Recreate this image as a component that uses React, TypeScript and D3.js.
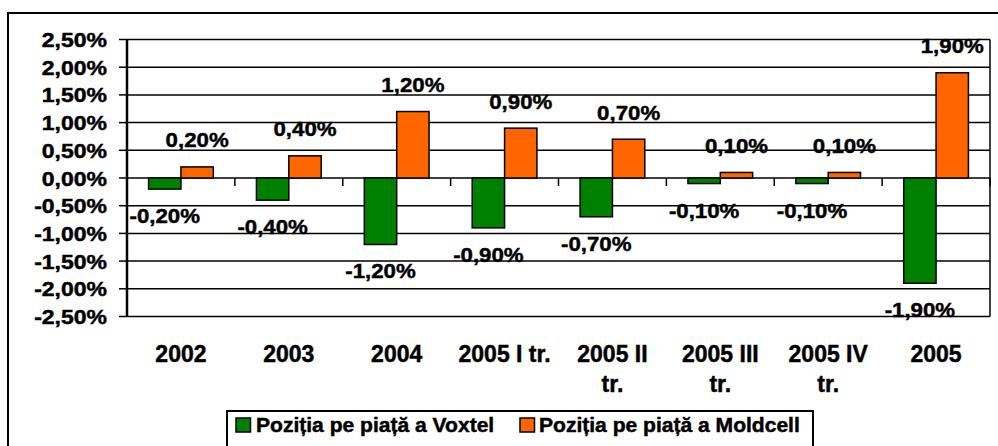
import React from "react";
import * as d3 from "d3";

const categories: string[][] = [
  ["2002"],
  ["2003"],
  ["2004"],
  ["2005 I tr."],
  ["2005 II", "tr."],
  ["2005 III", "tr."],
  ["2005 IV", "tr."],
  ["2005"],
];
const voxtel = [-0.2, -0.4, -1.2, -0.9, -0.7, -0.1, -0.1, -1.9];
const moldcell = [0.2, 0.4, 1.2, 0.9, 0.7, 0.1, 0.1, 1.9];
const yTicks = [2.5, 2.0, 1.5, 1.0, 0.5, 0, -0.5, -1.0, -1.5, -2.0, -2.5];
const seriesNames = ["Poziția pe piață a Voxtel", "Poziția pe piață a Moldcell"];
const colors = ["#008000", "#FF6600"];

const W = 998;
const H = 446;
const FONT = "'Liberation Sans', Arial, sans-serif";

const locale = d3.formatLocale({ decimal: ",", thousands: ".", grouping: [3], currency: ["", ""], minus: "-" });
const f2 = locale.format(".2f");
const pct = (v: number) => f2(v).replace("\u2212", "-") + "%";

function T({ x, y, children, anchor = "middle", size = 20, sx = 1 }: any) {
  return (
    <text
      transform={`translate(${x},${y}) scale(${sx},1)`}
      textAnchor={anchor}
      fontFamily={FONT}
      fontWeight="bold"
      fontSize={size}
      fill="#000"
      stroke="#000"
      strokeWidth={0.45}
    >
      {children}
    </text>
  );
}

export default function App() {
  const left = 127, right = 990, top = 39.5, bottom = 316.5;
  const y = d3.scaleLinear().domain([-2.5, 2.5]).range([bottom, top]);
  const keys = categories.map((c) => c.join(" "));
  const x = d3.scaleBand().domain(keys).range([left, right]).paddingInner(0).paddingOuter(0);
  const bw = x.bandwidth() * 0.3;
  const y0 = y(0);

  return (
    <svg width={W} height={H} style={{ position: "absolute", left: 0, top: 0, background: "#fff" }}>
      <rect x={0} y={0} width={W} height={H} fill="#fff" />
      {/* outer frame */}
      <rect x={8} y={13} width={1100} height={600} fill="none" stroke="#000" strokeWidth={2} />

      {/* gridlines */}
      {yTicks.map((t) => (
        <line key={"g" + t} x1={left} x2={right} y1={y(t)} y2={y(t)} stroke="#000" strokeWidth={1.5} />
      ))}
      {/* y ticks */}
      {yTicks.map((t) => (
        <line key={"t" + t} x1={left - 8} x2={left} y1={y(t)} y2={y(t)} stroke="#000" strokeWidth={1.5} />
      ))}
      {yTicks.map((t) => (
        <T key={"l" + t} x={107} y={y(t) + 7.5} anchor="end" size={20} sx={1.15}>{pct(t)}</T>
      ))}
      {/* right border */}
      <line x1={right} x2={right} y1={top} y2={bottom} stroke="#000" strokeWidth={1.5} />

      {/* bars */}
      {keys.map((k, i) => {
        const cx = (x(k) as number) + x.bandwidth() / 2;
        const v = voxtel[i];
        const m = moldcell[i];
        return (
          <g key={k}>
            <rect x={cx - bw} y={Math.min(y(v), y0)} width={bw} height={Math.abs(y(v) - y0)} fill={colors[0]} stroke="#000" strokeWidth={1.5} />
            <rect x={cx} y={Math.min(y(m), y0)} width={bw} height={Math.abs(y(m) - y0)} fill={colors[1]} stroke="#000" strokeWidth={1.5} />
          </g>
        );
      })}

      {/* x axis ticks at zero */}
      {keys.map((k, i) => (
        <line key={"xt" + i} x1={(x(k) as number) + x.bandwidth()} x2={(x(k) as number) + x.bandwidth()} y1={y0} y2={y0 + 8} stroke="#000" strokeWidth={1.5} />
      ))}
      {/* left axis */}
      <line x1={left} x2={left} y1={top} y2={bottom} stroke="#000" strokeWidth={2.5} />

      {/* data labels */}
      {keys.map((k, i) => {
        const cx = (x(k) as number) + x.bandwidth() / 2;
        return (
          <g key={"dl" + k}>
            <T x={cx - bw / 2} y={y(voxtel[i]) + 34} size={21} sx={1.06}>{pct(voxtel[i])}</T>
            <T x={cx + bw / 2} y={y(moldcell[i]) - 19.5} size={21} sx={1.06}>{pct(moldcell[i])}</T>
          </g>
        );
      })}

      {/* x labels */}
      {categories.map((lines, i) => {
        const cx = (x(keys[i]) as number) + x.bandwidth() / 2;
        return lines.map((ln, j) => (
          <T key={"xl" + i + "-" + j} x={cx} y={361.7 + j * 30} size={23}>{ln}</T>
        ));
      })}

      {/* legend */}
      <rect x={227} y={411} width={586} height={60} fill="#fff" stroke="#000" strokeWidth={2} />
      <rect x={236} y={418} width={14.5} height={14} fill={colors[0]} stroke="#000" strokeWidth={1.5} />
      <T x={256} y={432} anchor="start" size={19.5} sx={1.08}>{seriesNames[0]}</T>
      <rect x={520} y={418} width={14.5} height={14} fill={colors[1]} stroke="#000" strokeWidth={1.5} />
      <T x={539} y={432} anchor="start" size={19.5} sx={1.08}>{seriesNames[1]}</T>
    </svg>
  );
}
